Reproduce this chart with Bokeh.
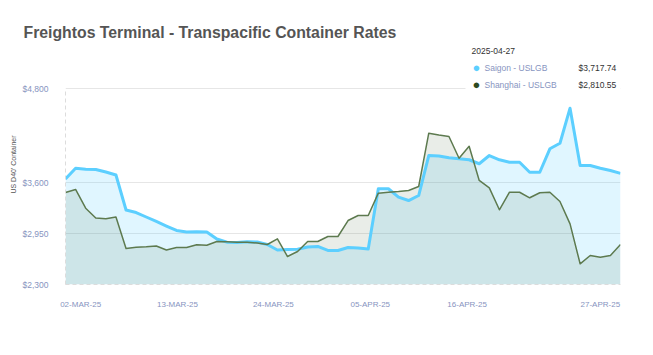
from bokeh.plotting import figure
from bokeh.models import (Range1d, FixedTicker, NumeralTickFormatter, CustomJSTickFormatter,
                          Label, BoxAnnotation, ColumnDataSource, Title)
from bokeh.embed import file_html
from bokeh.resources import INLINE

# ---- data ----
saigon = [3646, 3782, 3771, 3767, 3735, 3697, 3250, 3218, 3161, 3104,
          3046, 2989, 2970, 2972, 2970, 2880, 2840, 2836, 2846, 2842,
          2810, 2740, 2746, 2750, 2778, 2785, 2734, 2734, 2772, 2766,
          2753, 3521, 3521, 3414, 3371, 3435, 3945, 3939, 3916, 3903,
          3891, 3840, 3945, 3891, 3860, 3860, 3732, 3732, 4031, 4102,
          4549, 3818, 3818, 3783, 3754, 3717.74]
shanghai = [3473, 3512, 3273, 3148, 3138, 3161, 2759, 2774, 2781, 2791,
            2740, 2772, 2772, 2806, 2801, 2848, 2845, 2840, 2840, 2829,
            2810, 2883, 2657, 2721, 2848, 2848, 2912, 2912, 3116, 3180,
            3180, 3465, 3477, 3486, 3499, 3550, 4230, 4207, 4188, 3911,
            4064, 3627, 3533, 3253, 3477, 3477, 3406, 3470, 3477, 3359,
            3074, 2564, 2670, 2648, 2670, 2810.55]
tick_positions = [1.5, 11.1, 20.6, 30.2, 39.8, 53.0]
tick_labels = ["02-MAR-25", "13-MAR-25", "24-MAR-25", "05-APR-25", "16-APR-25", "27-APR-25"]
y_ticks = [2300, 2950, 3600, 4800]
y_min, y_max = 2300, 4800
series_names = ["Saigon - USLGB", "Shanghai - USLGB"]
last_date = "2025-04-27"
last_values = ["$3,717.74", "$2,810.55"]
title_text = "Freightos Terminal - Transpacific Container Rates"
y_title = "US D40' Container"

# ---- styling / layout ----
SAIGON = "#5ccfff"
SHANGHAI = "#5d7a4f"
SHANGHAI_DOT = "#2e4a1f"
FONT = "Liberation Sans"
LABEL_BLUE = "#8794c0"

W, H = 653, 355
FL, FR, FB = 65, 620, 284          # frame left / right / bottom (canvas px)
PLOT_TOP = 88                      # canvas px where y_max sits
FT = 44                            # frame top (legend lives inside the frame)
n = len(saigon)
x_per_px = (n - 1) / (FR - FL)
y_per_px = (y_max - y_min) / (FB - PLOT_TOP)
y_top = y_max + (PLOT_TOP - FT) * y_per_px


def X(px):
    return (px - FL) * x_per_px


def Y(py):
    return y_min + (FB - py) * y_per_px


src = ColumnDataSource(dict(x=list(range(n)), saigon=saigon, shanghai=shanghai))

p = figure(width=W, height=H, output_backend="svg", toolbar_location=None,
           x_range=Range1d(0, n - 1), y_range=Range1d(y_min, y_top),
           min_border_left=FL, min_border_right=W - FR, min_border_top=FT,
           min_border_bottom=H - FB)
p.outline_line_color = None
p.background_fill_color = "white"
p.border_fill_color = "white"

p.title = Title(text=title_text, align="left", offset=23 - FL, standoff=7,
                text_font=FONT, text_font_size="15.8px", text_font_style="bold",
                text_color="#555555")

p.varea(x="x", y1=y_min, y2="saigon", source=src, fill_color=SAIGON, fill_alpha=0.19)
p.varea(x="x", y1=y_min, y2="shanghai", source=src, fill_color="#4d6b3f", fill_alpha=0.12)
p.line(x="x", y="saigon", source=src, line_color=SAIGON, line_width=3, line_join="round")
p.line(x="x", y="shanghai", source=src, line_color=SHANGHAI, line_width=1.5, line_join="round")

# axes
p.xgrid.visible = False
p.ygrid.ticker = FixedTicker(ticks=y_ticks)
p.ygrid.grid_line_color = "#e6e6e6"

ya = p.yaxis[0]
ya.ticker = FixedTicker(ticks=y_ticks)
ya.bounds = (y_min, y_max)
ya.formatter = NumeralTickFormatter(format="$0,0")
ya.major_tick_line_color = None
ya.minor_tick_line_color = None
ya.axis_line_color = "#dcdcdc"
ya.axis_line_dash = "4 3"
ya.major_label_text_color = LABEL_BLUE
ya.major_label_text_font = FONT
ya.major_label_text_font_size = "8.5px"
ya.major_label_standoff = 11
ya.axis_label = y_title
ya.axis_label_text_font = FONT
ya.axis_label_text_font_size = "7px"
ya.axis_label_text_font_style = "normal"
ya.axis_label_text_color = "#555555"
ya.axis_label_standoff = 3

xa = p.xaxis[0]
xa.ticker = FixedTicker(ticks=tick_positions)
xa.formatter = CustomJSTickFormatter(args=dict(pos=tick_positions, labels=tick_labels),
                                     code="const i = pos.indexOf(tick); return i < 0 ? '' : labels[i];")
xa.major_tick_line_color = None
xa.minor_tick_line_color = None
xa.axis_line_color = "#dcdcdc"
xa.axis_line_dash = "4 3"
xa.major_label_text_color = LABEL_BLUE
xa.major_label_text_font = FONT
xa.major_label_text_font_size = "8px"
xa.major_label_standoff = 9

# legend panel: white box hiding the top grid line on the right
p.add_layout(BoxAnnotation(left=X(465), right=X(FR), bottom=Y(92), top=y_top,
                           fill_color="white", fill_alpha=1.0, line_color=None))


def lab(text, cx, cy, size, color, align="left"):
    return Label(x=X(cx), y=Y(cy), text=text, text_font=FONT,
                 text_font_size=f"{size}px", text_color=color,
                 text_align=align, text_baseline="middle")


p.add_layout(lab(last_date, 471, 50, 8.5, "#333333"))
p.add_layout(lab("●", 476, 67, 13, SAIGON, align="center"))
p.add_layout(lab(series_names[0], 484, 67, 8.5, LABEL_BLUE))
p.add_layout(lab(last_values[0], 578, 67, 8.5, "#333333"))
p.add_layout(lab("●", 476, 84, 13, SHANGHAI_DOT, align="center"))
p.add_layout(lab(series_names[1], 484, 84, 8.5, LABEL_BLUE))
p.add_layout(lab(last_values[1], 578, 84, 8.5, "#333333"))

open("out.html", "w").write(file_html(p, INLINE))
